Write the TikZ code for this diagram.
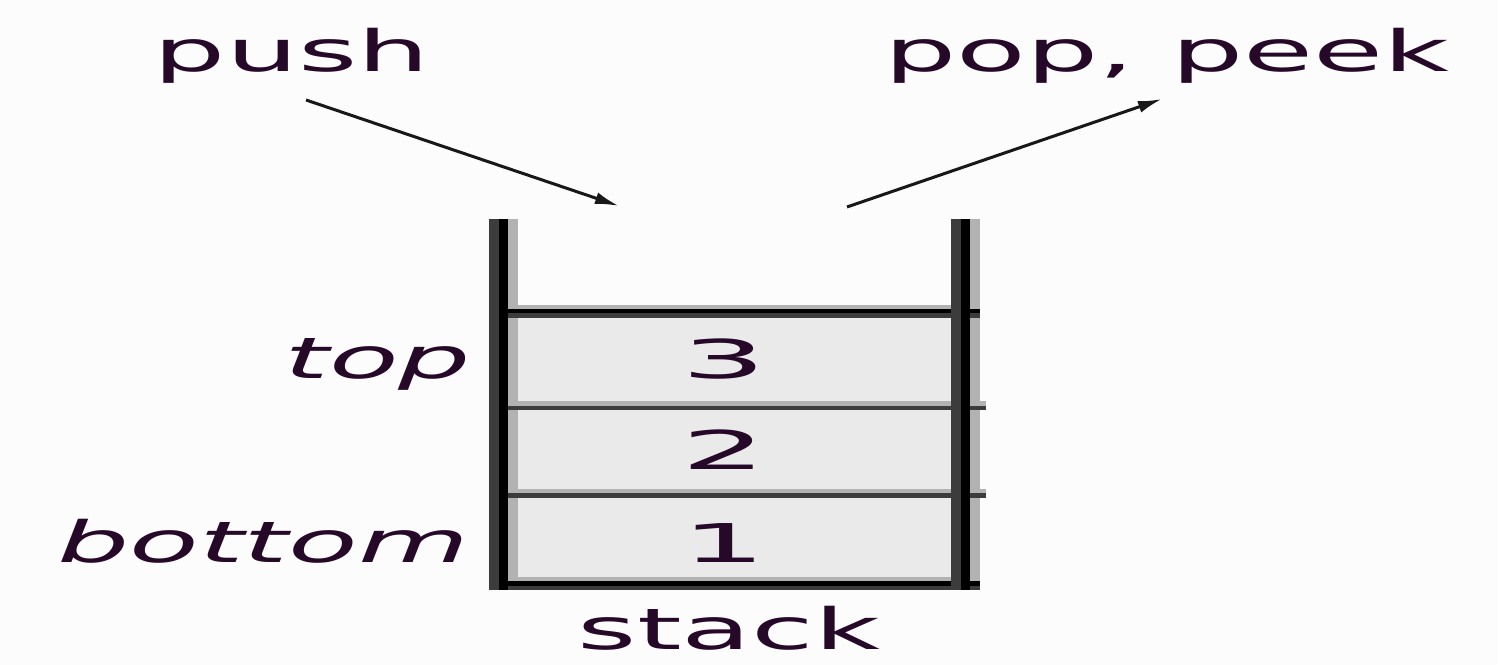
\documentclass[tikz,border=0pt]{standalone}
\usepackage{fontspec}
\setmainfont{DejaVu Sans}
\usetikzlibrary{arrows.meta}

\definecolor{ink}{RGB}{38,8,40}
\definecolor{bg}{RGB}{252,252,252}
\definecolor{cellfill}{RGB}{234,234,234}
\definecolor{edgedark}{RGB}{60,60,60}
\definecolor{edgelight}{RGB}{178,178,178}
\definecolor{arrowink}{RGB}{24,24,24}

% horizontally widened text, as the whole figure is drawn wide
\newcommand\widetext[2]{\scalebox{#1}[1]{#2}}

\tikzset{
  txtlabel/.style={inner sep=0pt, anchor=base, text=ink,
                font=\fontsize{16.2}{19}\selectfont},
  sidelabel/.style={txtlabel, font=\fontsize{16.2}{19}\selectfont\itshape},
  digit/.style={inner sep=0pt, anchor=base, text=ink,
                font=\fontsize{15.2}{18}\selectfont},
  flow/.style={draw=arrowink, line width=0.03cm,
               -{Latex[length=0.24cm,width=0.12cm]}},
}

\begin{document}
\begin{tikzpicture}[x=0.01cm,y=-0.01cm]
  \fill[bg] (0,0) rectangle (1498,665);
  \useasboundingbox (0,0) rectangle (1498,665);

  % stack contents
  \fill[cellfill] (489,318) rectangle (980,577);

  % inner shading of the walls
  \fill[edgelight] (508,219) rectangle (518,590);
  \fill[edgelight] (970,219) rectangle (980,590);

  % top rim of the filled part
  \fill[edgelight] (489,305) rectangle (980,309);
  \fill[black]     (489,309) rectangle (980,313);
  \fill[edgedark]  (489,313) rectangle (980,318);

  % dividers between elements
  \fill[edgelight] (489,401) rectangle (986,406);
  \fill[edgedark]  (489,406) rectangle (986,410);
  \fill[edgelight] (489,489) rectangle (986,493);
  \fill[edgedark]  (489,493) rectangle (986,498);

  % base
  \fill[edgelight] (489,577) rectangle (980,581);
  \fill[black]     (489,581) rectangle (980,586);
  \fill[edgedark]  (489,586) rectangle (980,590);

  % walls
  \fill[edgedark] (489,219) rectangle (499,590);
  \fill[black]    (499,219) rectangle (508,590);
  \fill[edgedark] (951,219) rectangle (961,590);
  \fill[black]    (961,219) rectangle (970,590);

  % element values
  \node[digit] (v3) at (724,379) {\widetext{2.5}{3}};
  \node[digit] (v2) at (724,470) {\widetext{2.5}{2}};
  \node[digit] (v1) at (724,563) {\widetext{2.5}{1}};

  % labels
  \node[txtlabel] (push) at (292,72) {\widetext{2.0}{push}};
  \node[txtlabel] (poppeek) at (1167,72) {\widetext{2.0}{pop, peek}};
  \node[sidelabel, anchor=base east] (toplbl) at (472,379) {\widetext{2.0}{top}};
  \node[sidelabel, anchor=base east] (bottomlbl) at (470,563) {\widetext{2.0}{bottom}};
  \node[txtlabel] (stacklbl) at (729,650) {\widetext{2.0}{stack}};

  % arrows in and out of the stack
  \coordinate (pushfrom) at (306,100);
  \coordinate (pushto)   at (619,206);
  \coordinate (popfrom)  at (847,207);
  \coordinate (popto)    at (1162,99);
  \draw[flow] (pushfrom) -- (pushto);
  \draw[flow] (popfrom) -- (popto);
\end{tikzpicture}
\end{document}
